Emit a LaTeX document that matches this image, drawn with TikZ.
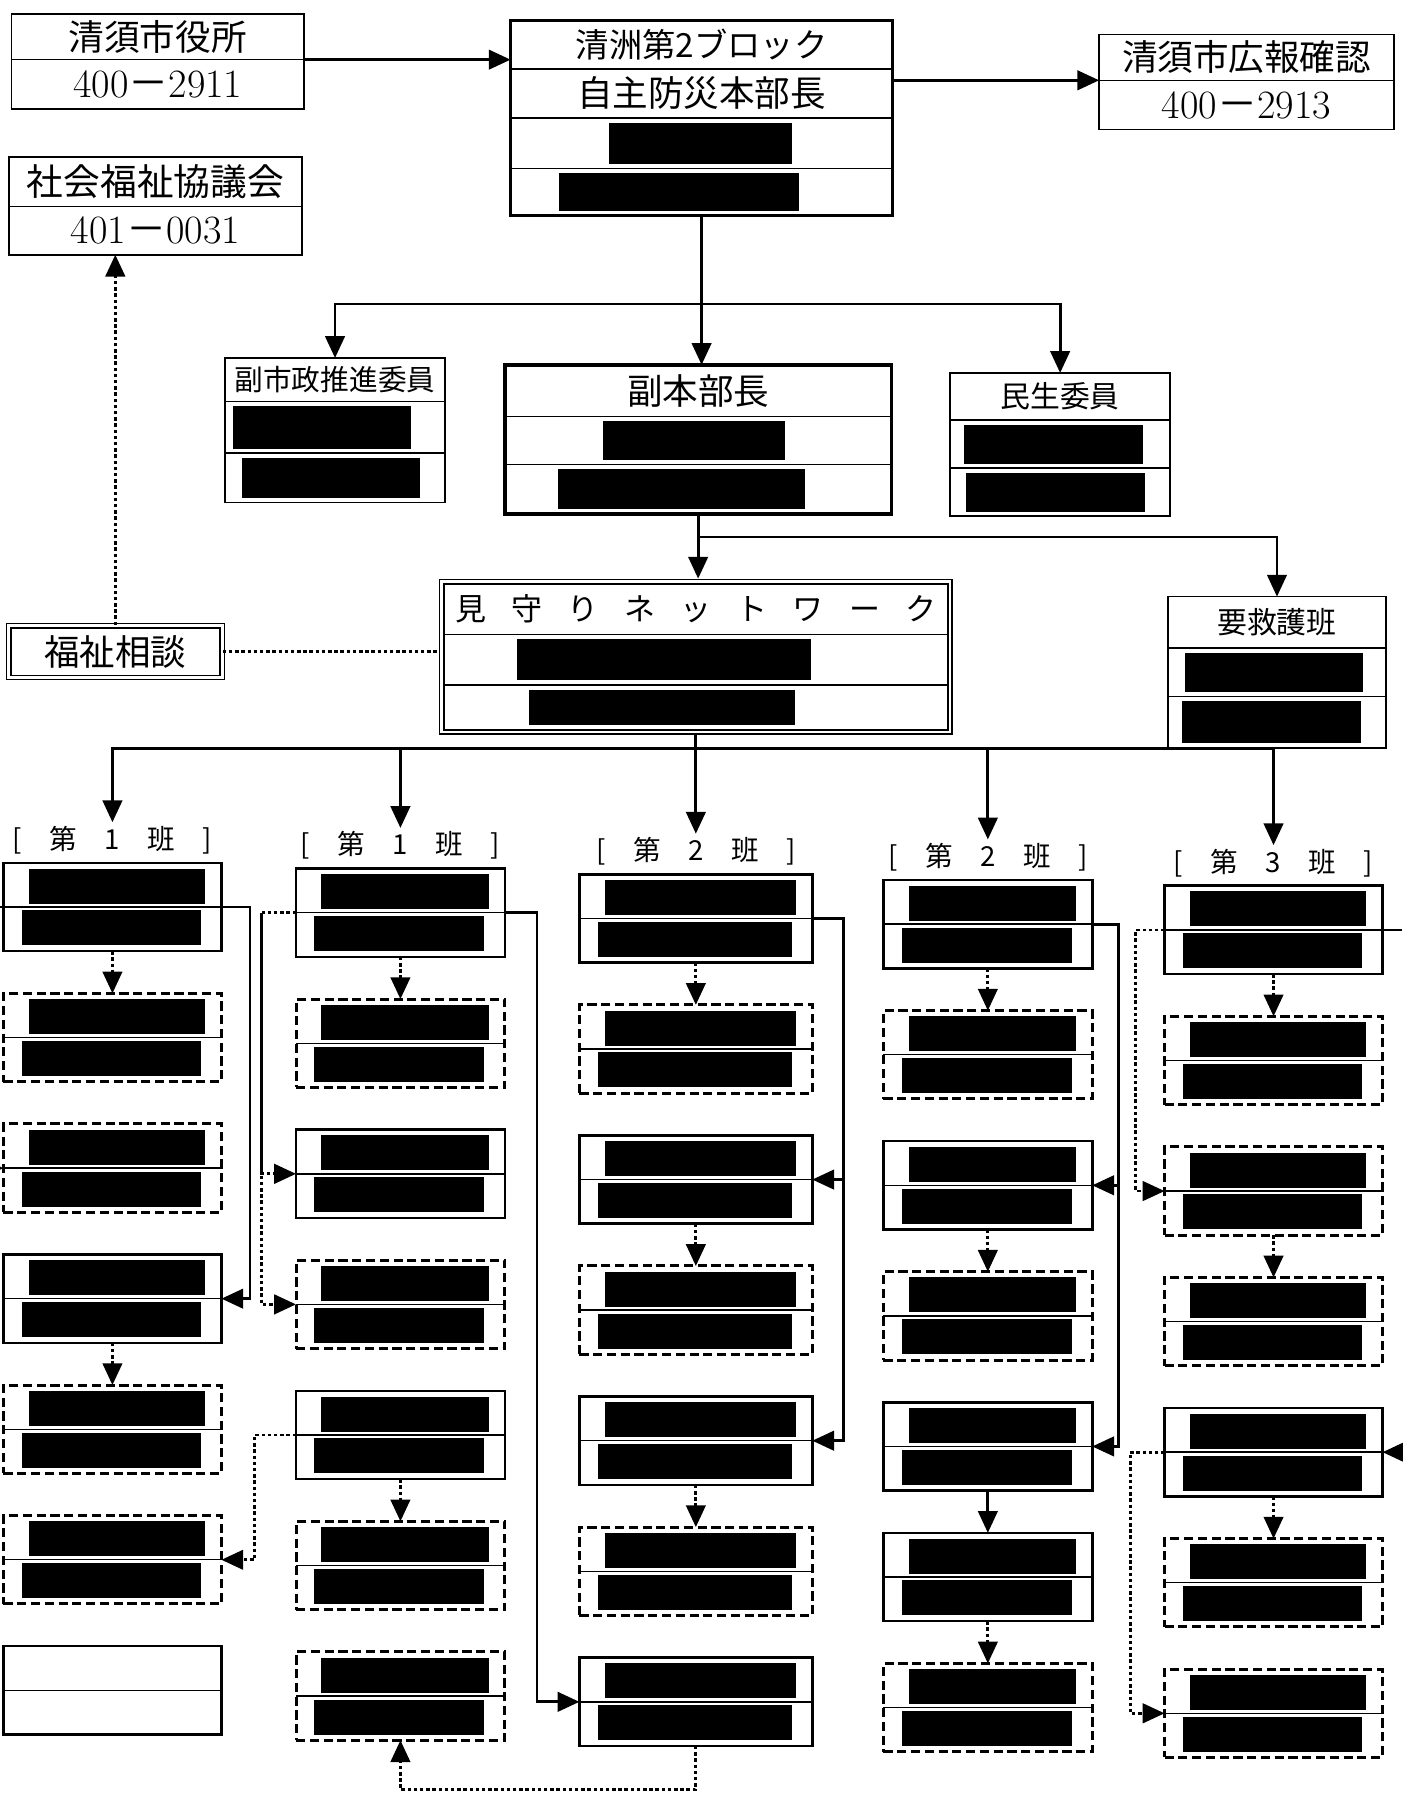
\documentclass[tikz,border=0pt]{standalone}
\usepackage{fontspec}
\newfontfamily\jp{Noto Sans CJK JP}
\usetikzlibrary{arrows.meta,positioning,fit}
\newcommand{\tel}[2]{#1{\jp －}#2}
\newcommand{\wgap}{\hspace{22pt}}
\newcommand{\hgap}{\hspace{24pt}}
\newcommand{\redact}[3]{\fill ([shift={(#2,4)}]#1.north west) rectangle ([shift={(#3,-4)}]#1.south west);}
\tikzset{
  arr/.style={-{Triangle[length=19pt,width=17pt]}, line width=2.4pt},
  darr/.style={arr, dash pattern=on 3pt off 2.4pt},
  dln/.style={line width=3pt, dash pattern=on 3pt off 2.4pt},
  row/.style={draw, line width=1.4pt, inner sep=0pt, outer sep=0pt, minimum width=#1},
  frm/.style={draw, line width=3pt, inner sep=0pt, outer sep=0pt},
  ttl/.style={font=\jp\fontsize{31}{33}\selectfont},
  mid/.style={font=\jp\fontsize{26}{28}\selectfont},
  num/.style={font=\fontsize{35}{37}\selectfont},
  lab/.style={font=\jp\fontsize{24}{26}\selectfont, inner sep=3pt},
  slots/.style={draw, line width=2.2pt, minimum height=77pt, inner sep=0pt, outer sep=0pt},
  slotd/.style={slots, line width=2.6pt, dash pattern=on 8pt off 4pt},
  slote/.style={slots},
}

\begin{document}
\begin{tikzpicture}[x=1pt,y=-1pt]
\useasboundingbox (0,0) rectangle (1222,1568);
\coordinate (lft) at (0,0);
\coordinate (rgt) at (1222,0);

% ============ top: city office, welfare council, block head ================
\node[row=255pt, minimum height=40pt, ttl] (city) at (137.5,32) {清須市役所};
\node[row=255pt, minimum height=43pt, num, below=0pt of city] (citytel) {\tel{400}{2911}};

\node[row=255pt, minimum height=43pt, ttl, font=\jp\fontsize{32}{34}\selectfont] (shakyo) at (135.5,158.5) {社会福祉協議会};
\node[row=255pt, minimum height=42pt, num, below=0pt of shakyo] (shakyotel) {\tel{401}{0031}};

\node[row=257pt, minimum height=40pt, ttl] (kouhou) at (1086.5,50) {清須市広報確認};
\node[row=257pt, minimum height=43pt, num, below=0pt of kouhou] (kouhoutel) {\tel{400}{2913}};

\node[row=333pt, minimum height=42pt, font=\jp\fontsize{29}{31}\selectfont] (blk1) at (611.5,39) {清洲第2ブロック};
\node[row=333pt, minimum height=43pt, ttl, below=0pt of blk1] (blk2) {自主防災本部長};
\node[row=333pt, minimum height=44pt, below=0pt of blk2] (blk3) {};
\node[row=333pt, minimum height=41pt, below=0pt of blk3] (blk4) {};
\node[frm, fit=(blk1)(blk4)] (blk) {};
\redact{blk3}{86}{245}
\redact{blk4}{42}{251}

% ============ second level ==================================================
\node[row=192pt, minimum height=38pt, font=\jp\fontsize{25}{27}\selectfont] (shisei1) at (292,331) {副市政推進委員};
\node[row=192pt, minimum height=45pt, below=0pt of shisei1] (shisei2) {};
\node[row=192pt, minimum height=43pt, below=0pt of shisei2] (shisei3) {};
\redact{shisei2}{7}{162}
\redact{shisei3}{15}{170}

\node[row=337pt, minimum height=45pt, ttl] (fuku1) at (608.5,340.5) {副本部長};
\node[row=337pt, minimum height=42pt, below=0pt of fuku1] (fuku2) {};
\node[row=337pt, minimum height=43pt, below=0pt of fuku2] (fuku3) {};
\node[frm, fit=(fuku1)(fuku3)] (fuku) {};
\redact{fuku2}{86}{244}
\redact{fuku3}{46}{262}

\node[row=192pt, minimum height=41pt, mid] (minsei1) at (924,345.5) {民生委員};
\node[row=192pt, minimum height=42pt, below=0pt of minsei1] (minsei2) {};
\node[row=192pt, minimum height=42pt, below=0pt of minsei2] (minsei3) {};
\redact{minsei2}{12}{168}
\redact{minsei3}{14}{170}

% ============ watch network, rescue team, welfare desk ======================
\node[row=439pt, minimum height=44pt, font=\jp\fontsize{27}{29}\selectfont] (mima1) at (606.5,531)
  {見\wgap 守\wgap り\wgap ネ\wgap ッ\wgap ト\wgap ワ\wgap ー\wgap ク};
\node[row=439pt, minimum height=44pt, below=0pt of mima1] (mima2) {};
\node[row=439pt, minimum height=39pt, below=0pt of mima2] (mima3) {};
\node[draw, line width=1.4pt, inner sep=4pt, fit=(mima1)(mima3)] (mima) {};
\redact{mima2}{64}{320}
\redact{mima3}{74}{306}

\node[row=190pt, minimum height=45pt, mid] (kyugo1) at (1113,542.5) {要救護班};
\node[row=190pt, minimum height=42pt, below=0pt of kyugo1] (kyugo2) {};
\node[row=190pt, minimum height=45pt, below=0pt of kyugo2] (kyugo3) {};
\redact{kyugo2}{15}{170}
\redact{kyugo3}{12}{168}

\node[draw, double, double distance=2.6pt, line width=1.3pt, minimum width=186pt,
  minimum height=45pt, ttl] (fukushi) at (100.5,568) {福祉相談};

% ============ team columns ==================================================
\foreach \c/\n/\cx/\cw/\pat in {1/1/98/190/{s,d,d,s,d,d,e}, 2/1/349/182/{s,d,s,d,s,d,d},
    3/2/606.5/203/{s,d,s,d,s,d,s}, 4/2/861/182/{s,d,s,d,s,s,d}, 5/3/1110/190/{s,d,d,d,s,d,d}}{
  \node[lab] (h\c) at (\cx,727+5*\c) {[\hgap 第\hgap \n\hgap 班\hgap ]};
  \foreach \kd [count=\r] in \pat {
    \node[slot\kd, minimum width=\cw pt] (b\c-\r) at (\cx,671.7+113.8*\r+5*\c) {};
    \draw[line width=1.2pt] (b\c-\r.west) -- (b\c-\r.east);
    \if e\kd\else
      \fill ([shift={(22,5)}]b\c-\r.north west) rectangle ([shift={(-14,-3)}]b\c-\r.east);
      \fill ([shift={(16,3)}]b\c-\r.west) rectangle ([shift={(-18,-5)}]b\c-\r.south east);
    \fi
  }
}

% ============ connectors: top tree ==========================================
\draw[arr] (city.south east) -- (city.south east -| blk.west);
\draw[arr] (kouhou.south west -| blk.east) -- (kouhou.south west);
\draw[arr] (blk.south) -- (blk.south |- fuku.north);
\coordinate (j1) at ([shift={(0,77)}]blk.south);
\draw[arr] (j1) -| (shisei1.north);
\draw[arr] (j1) -| (minsei1.north);
\draw[arr] (fuku.south) -- (fuku.south |- mima.north);
\coordinate (j2) at ([shift={(0,20)}]fuku.south);
\draw[arr] (j2) -| (kyugo1.north);
\coordinate (j3) at ([shift={(0,12)}]mima.south);
\draw[line width=2.4pt] (mima.south) -- (j3);
\foreach \c in {1,...,5}
  \draw[arr] (j3) -| (h\c.north);
\draw[dln] (fukushi.east) -- (fukushi.east -| mima.west);
\draw[darr] (fukushi.north) -- (fukushi.north |- shakyotel.south);

% ============ connectors: inside the columns ================================
\foreach \c/\r/\s in {1/1/2,1/4/5,2/1/2,2/5/6,3/1/2,3/3/4,3/5/6,4/1/2,4/3/4,4/6/7,5/1/2,5/3/4,5/5/6}
  \draw[darr] (b\c-\r.south) -- (b\c-\s.north);
\draw[arr] (b4-5.south) -- (b4-6.north);

\draw[arr] (b1-1.east) -- ++(25,0) |- (b1-4.east);
\draw[darr] (b2-1.west) -- ++(-30,0) coordinate (k2) |- (b2-4.west);
\draw[darr] (k2) |- (b2-3.west);
\draw[arr] (b2-1.east) -- ++(28,0) |- (b3-7.west);
\draw[darr] (b2-5.west) -- ++(-36,0) |- (b1-6.east);
\draw[darr] (b3-7.south) -- ++(0,38) -| (b2-7.south);
\draw[arr] (b3-1.east) -- ++(27,0) coordinate (k3) |- (b3-5.east);
\draw[arr] (k3) |- (b3-3.east);
\draw[arr] (b4-1.east) -- ++(23,0) coordinate (k4) |- (b4-5.east);
\draw[arr] (k4) |- (b4-3.east);
\draw[darr] (b5-1.west) -- ++(-25,0) |- (b5-3.west);
\draw[darr] (b5-5.west) -- ++(-30,0) |- (b5-7.west);

% lines running off the sheet
\draw[line width=2pt] (b1-1.west) -- (b1-1.west -| lft);
\draw[arr] (b1-3.west -| lft) -- (b1-3.west);
\draw[line width=2pt] (b5-1.east) -- (b5-1.east -| rgt);
\draw[arr] (b5-5.east -| rgt) -- (b5-5.east);

\end{tikzpicture}
\end{document}
